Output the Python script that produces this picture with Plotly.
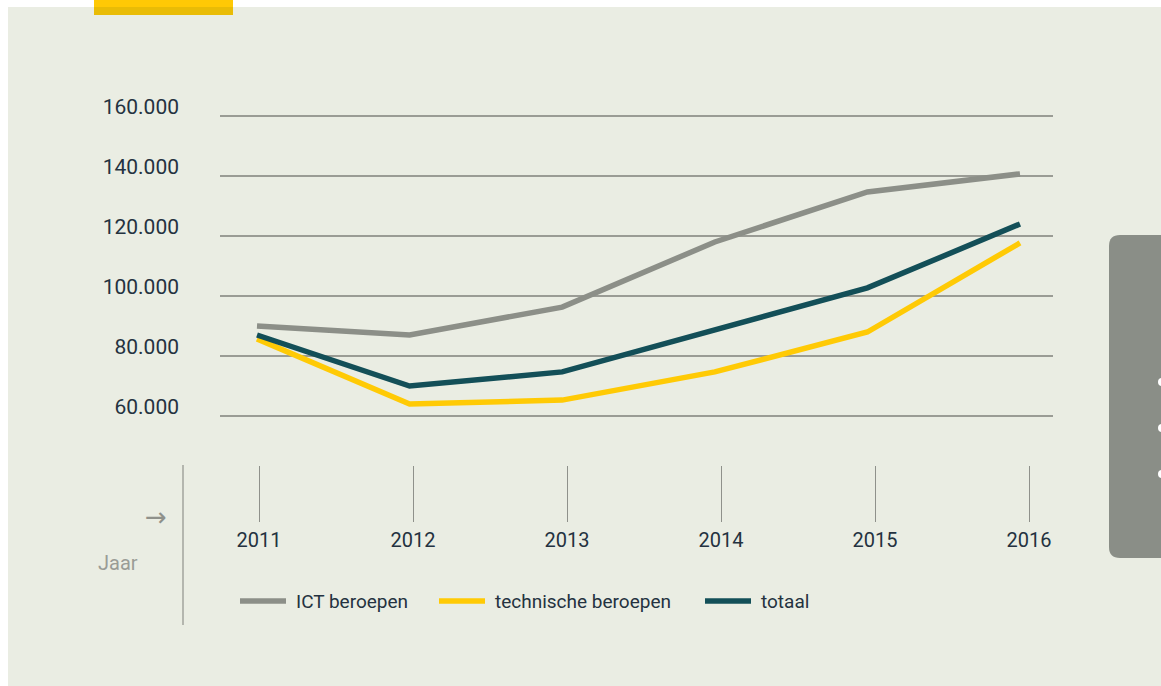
import plotly.graph_objects as go

# ---- data ----
years = [2011, 2012, 2013, 2014, 2015, 2016]
series_names = ["ICT beroepen", "technische beroepen", "totaal"]
ict = [90000, 87000, 96300, 118000, 134700, 140700]
technisch = [85700, 64000, 65300, 74700, 88000, 117700]
totaal = [87000, 70000, 74700, 88500, 102700, 124000]
y_tickvals = [60000, 80000, 100000, 120000, 140000, 160000]
y_ticktext = ["60.000", "80.000", "100.000", "120.000", "140.000", "160.000"]
x_ticktext = ["2011", "2012", "2013", "2014", "2015", "2016"]
axis_title = "Jaar"

W, H = 1161, 686
colors = ["#8C8F88", "#FFCA05", "#134F58"]
BG = "#EAEDE3"
TXT = "#243240"

def px(x):
    return x / W

def py(y):
    return 1 - y / H

fig = go.Figure()
for name, vals, col in zip(series_names, [ict, technisch, totaal], colors):
    fig.add_trace(go.Scatter(x=years, y=vals, name=name, mode="lines",
                             line=dict(color=col, width=5.5),
                             showlegend=False, xaxis="x", yaxis="y"))

# invisible trace for the lower tick strip
fig.add_trace(go.Scatter(x=years, y=[0.5] * len(years), mode="markers",
                         marker=dict(opacity=0), showlegend=False,
                         hoverinfo="skip", xaxis="x2", yaxis="y2"))

shapes = []
# background panel
shapes.append(dict(type="rect", xref="paper", yref="paper", x0=px(8), x1=px(W + 5),
                   y0=py(H + 5), y1=py(7), fillcolor=BG, line=dict(width=0), layer="below"))
# yellow tab at top
shapes.append(dict(type="rect", xref="paper", yref="paper", x0=px(94), x1=px(233),
                   y0=py(7), y1=py(-2), fillcolor="#FFC905", line=dict(width=0), layer="below"))
shapes.append(dict(type="rect", xref="paper", yref="paper", x0=px(94), x1=px(233),
                   y0=py(15), y1=py(7), fillcolor="#E9BC06", line=dict(width=0), layer="below"))
# grey side tab (rounded)
x0, x1, y0, y1, r = 1109, 1175, 235, 558, 11
path = (f"M {px(x0 + r)},{py(y0)} L {px(x1)},{py(y0)} L {px(x1)},{py(y1)} "
        f"L {px(x0 + r)},{py(y1)} Q {px(x0)},{py(y1)} {px(x0)},{py(y1 - r)} "
        f"L {px(x0)},{py(y0 + r)} Q {px(x0)},{py(y0)} {px(x0 + r)},{py(y0)} Z")
shapes.append(dict(type="path", xref="paper", yref="paper", path=path,
                   fillcolor="#8A8E87", line=dict(width=0), layer="below"))
for yd in [382, 428, 474]:
    shapes.append(dict(type="circle", xref="paper", yref="paper",
                       x0=px(1158), x1=px(1166), y0=py(yd + 4), y1=py(yd - 4),
                       fillcolor="white", line=dict(width=0), layer="below"))
# vertical separator line
shapes.append(dict(type="line", xref="paper", yref="paper", x0=px(183), x1=px(183),
                   y0=py(465), y1=py(625), line=dict(color="#8F918B", width=1.2)))

annotations = [
    dict(text="→", xref="paper", yref="paper", x=px(156), y=py(517), showarrow=False,
         font=dict(family="DejaVu Sans", size=26, color="#8F918B"),
         xanchor="center", yanchor="middle"),
    dict(text=axis_title, xref="paper", yref="paper", x=px(96), y=py(563), showarrow=False,
         font=dict(family="Roboto", size=20, color="#9A9C96"),
         xanchor="left", yanchor="middle"),
]

# manual legend
leg_x = [240, 439, 705]
for name, col, lx in zip(series_names, colors, leg_x):
    shapes.append(dict(type="line", xref="paper", yref="paper", x0=px(lx), x1=px(lx + 46),
                       y0=py(601), y1=py(601), line=dict(color=col, width=5.5)))
    annotations.append(dict(text=name, xref="paper", yref="paper", x=px(lx + 54), y=py(601),
                            showarrow=False, xanchor="left", yanchor="middle",
                            font=dict(family="Roboto", size=19, color=TXT)))

# main axis ranges: data 2011 at x=257, 2016 at x=1020; plot area 220..1053
ppy = (1020 - 257) / 5
xr = [2011 - (257 - 220) / ppy, 2016 + (1053 - 1020) / ppy]
# tick strip: 2011 at 259, 2016 at 1029
ppy2 = (1029 - 259) / 5
xr2 = [2011 - (259 - 220) / ppy2, 2016 + (1053 - 1029) / ppy2]
# y: 60px per 20000, 160k at y=116, plot area 106..426
upp = 20000 / 60
yr = [160000 - (426 - 116) * upp, 160000 + (116 - 106) * upp]

fig.update_layout(
    width=W, height=H,
    margin=dict(l=0, r=0, t=0, b=0, pad=0, autoexpand=False),
    paper_bgcolor="white", plot_bgcolor="rgba(0,0,0,0)",
    shapes=shapes, annotations=annotations,
    showlegend=False,
    xaxis=dict(domain=[px(220), px(1053)], range=xr, showgrid=False, zeroline=False,
               showticklabels=False, showline=False, ticks="", anchor="y",
               fixedrange=True, automargin=False),
    yaxis=dict(domain=[py(426), py(106)], range=yr, tickvals=y_tickvals, ticktext=y_ticktext,
               showgrid=True, gridcolor="#9A9C95", gridwidth=1.6, zeroline=False,
               showline=False, ticks="", ticklabelstandoff=40, ticklabelshift=-9,
               tickfont=dict(family="Roboto", size=21, color=TXT), anchor="x",
               fixedrange=True, automargin=False),
    xaxis2=dict(domain=[px(220), px(1053)], range=xr2, tickvals=years, ticktext=x_ticktext,
                showgrid=True, gridcolor="#8F918B", gridwidth=1.2, zeroline=False,
                showline=False, ticks="", ticklabelstandoff=4,
                tickfont=dict(family="Roboto", size=20, color=TXT), anchor="y2",
                fixedrange=True, automargin=False),
    yaxis2=dict(domain=[py(522), py(466)], range=[0, 1], showgrid=False, zeroline=False,
                showticklabels=False, showline=False, ticks="", anchor="x2",
                fixedrange=True, automargin=False),
)

fig.write_html("out.html", config={"displayModeBar": False},
               post_script="document.body.style.margin='0';document.body.style.overflow='hidden';")
